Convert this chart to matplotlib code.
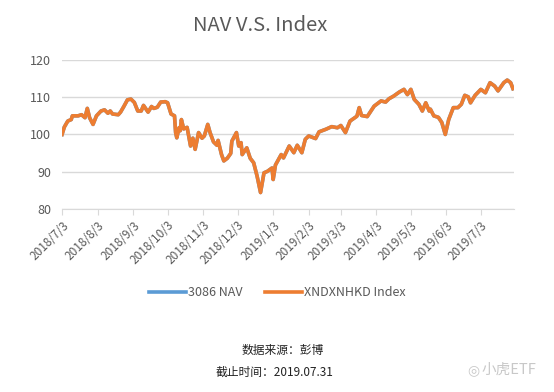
import numpy as np
import pandas as pd
import matplotlib
matplotlib.use("Agg")
import matplotlib.pyplot as plt
import matplotlib.dates as mdates

plt.rcParams['font.family'] = ['Noto Sans CJK SC', 'DejaVu Sans']

# 数据
dates = pd.to_datetime([
    "2018-07-03", "2018-07-05", "2018-07-08", "2018-07-11", "2018-07-12", "2018-07-17",
    "2018-07-20", "2018-07-23", "2018-07-25", "2018-07-27", "2018-07-30", "2018-08-02",
    "2018-08-06", "2018-08-09", "2018-08-12", "2018-08-14", "2018-08-16", "2018-08-21",
    "2018-08-23", "2018-08-26", "2018-08-29", "2018-09-01", "2018-09-04", "2018-09-07",
    "2018-09-10", "2018-09-12", "2018-09-16", "2018-09-19", "2018-09-21", "2018-09-24",
    "2018-09-27", "2018-10-01", "2018-10-03", "2018-10-06", "2018-10-09", "2018-10-10",
    "2018-10-11", "2018-10-13", "2018-10-14", "2018-10-15", "2018-10-17", "2018-10-20",
    "2018-10-23", "2018-10-25", "2018-10-27", "2018-10-30", "2018-11-02", "2018-11-04",
    "2018-11-07", "2018-11-09", "2018-11-12", "2018-11-15", "2018-11-16", "2018-11-19",
    "2018-11-21", "2018-11-24", "2018-11-27", "2018-11-28", "2018-12-02", "2018-12-04",
    "2018-12-06", "2018-12-07", "2018-12-11", "2018-12-14", "2018-12-17", "2018-12-20",
    "2018-12-23", "2018-12-26", "2018-12-29", "2019-01-02", "2019-01-03", "2019-01-05",
    "2019-01-10", "2019-01-12", "2019-01-17", "2019-01-21", "2019-01-24", "2019-01-28",
    "2019-01-31", "2019-02-03", "2019-02-09", "2019-02-12", "2019-02-18", "2019-02-23",
    "2019-02-28", "2019-03-03", "2019-03-07", "2019-03-11", "2019-03-17", "2019-03-19",
    "2019-03-21", "2019-03-26", "2019-04-01", "2019-04-07", "2019-04-11", "2019-04-14",
    "2019-04-18", "2019-04-23", "2019-04-27", "2019-04-30", "2019-05-03", "2019-05-06",
    "2019-05-10", "2019-05-13", "2019-05-16", "2019-05-19", "2019-05-20", "2019-05-23",
    "2019-05-27", "2019-05-30", "2019-06-02", "2019-06-05", "2019-06-09", "2019-06-13",
    "2019-06-16", "2019-06-19", "2019-06-22", "2019-06-24", "2019-06-28", "2019-07-03",
    "2019-07-07", "2019-07-11", "2019-07-15", "2019-07-18", "2019-07-23", "2019-07-26",
    "2019-07-29", "2019-07-31",
])

index_vals = [
    100, 102, 103.6, 104, 105, 105,
    105.3, 104.5, 107, 104.5, 102.7, 105,
    106.3, 106.6, 105.7, 106.3, 105.5, 105.3,
    106, 107.6, 109.3, 109.5, 108.6, 106.3,
    106.3, 107.8, 106, 107.5, 107, 107.3,
    108.7, 108.8, 108.5, 105.5, 105, 100.5,
    99.1, 101.8, 101, 104, 101.5, 101.9,
    96.9, 99, 96, 100.5, 99, 99.6,
    102.7, 100.5, 98, 97.1, 98.4, 94.6,
    92.9, 93.6, 94.9, 98.2, 100.5, 96.9,
    97.8, 94.6, 96.4, 93.6, 92.4, 88.8,
    84.4, 89.7, 90.1, 91, 87.9, 91.8,
    94.6, 93.7, 96.9, 95.1, 97.1, 95.1,
    98.7, 99.6, 98.9, 100.7, 101.4, 102.1,
    101.8, 102.4, 100.5, 103.6, 104.9, 107.2,
    105.1, 104.8, 107.6, 109, 108.7, 109.6,
    110.3, 111.4, 112.1, 110.7, 112.1, 109.4,
    108.1, 106.3, 108.5, 106.3, 106.8, 105,
    104.6, 103.2, 100, 104, 107.2, 107.2,
    108.1, 110.5, 110.1, 108.5, 110.5, 112.1,
    111.2, 113.9, 113, 111.7, 113.9, 114.6,
    113.9, 112.3,
]

# NAV 几乎与指数重合（被橙线遮住）
nav_vals = list(index_vals)

tick_dates = pd.to_datetime([
    "2018-07-03", "2018-08-03", "2018-09-03", "2018-10-03", "2018-11-03", "2018-12-03",
    "2019-01-03", "2019-02-03", "2019-03-03", "2019-04-03", "2019-05-03", "2019-06-03",
    "2019-07-03",
])
tick_labels = [f"{d.year}/{d.month}/{d.day}" for d in tick_dates]

grey = "#595959"
fig = plt.figure(figsize=(5.54, 3.92), dpi=100)
ax = fig.add_axes([0.112, 0.467, 0.816, 0.38])

ax.plot(dates, nav_vals, color="#5B9BD5", lw=2.6, label="3086 NAV")
ax.plot(dates, index_vals, color="#ED7D31", lw=2.6, label="XNDXNHKD Index")

ax.set_xlim(pd.Timestamp("2018-07-03"), pd.Timestamp("2019-08-01"))
ax.set_ylim(80, 120)
ax.set_yticks([80, 90, 100, 110, 120])
ax.set_xticks(tick_dates)
ax.set_xticklabels(tick_labels, rotation=45, ha="right", rotation_mode="anchor")

ax.grid(axis="y", color="#D9D9D9", lw=1)
ax.set_axisbelow(True)
for s in ["top", "right", "left"]:
    ax.spines[s].set_visible(False)
ax.spines["bottom"].set_color("#D9D9D9")
ax.tick_params(axis="y", length=0, colors=grey, labelsize=9, pad=8)
ax.tick_params(axis="x", length=4, color="#D9D9D9", labelcolor=grey, labelsize=8.5, pad=3)

fig.text(0.47, 0.935, "NAV V.S. Index", ha="center", va="center", fontsize=14.5, color=grey)

fig.legend(loc="center", bbox_to_anchor=(0.5, 0.253), ncol=2, frameon=False,
           fontsize=9, labelcolor=grey, handlelength=3.0, handletextpad=0.1,
           columnspacing=1.8)

fig.text(0.51, 0.107, "数据来源：彭博", ha="center", va="center", fontsize=8.5, color="#222222")
fig.text(0.496, 0.051, "截止时间：2019.07.31", ha="center", va="center", fontsize=8.5, color="#222222")
fig.text(0.918, 0.056, "小虎ETF", ha="center", va="center", fontsize=10.5, color="#C8C8C8")
fig.text(0.855, 0.056, "◎", ha="center", va="center", fontsize=10, color="#C8C8C8",
         family=["DejaVu Sans"])

fig.savefig("out.png", dpi=100)
